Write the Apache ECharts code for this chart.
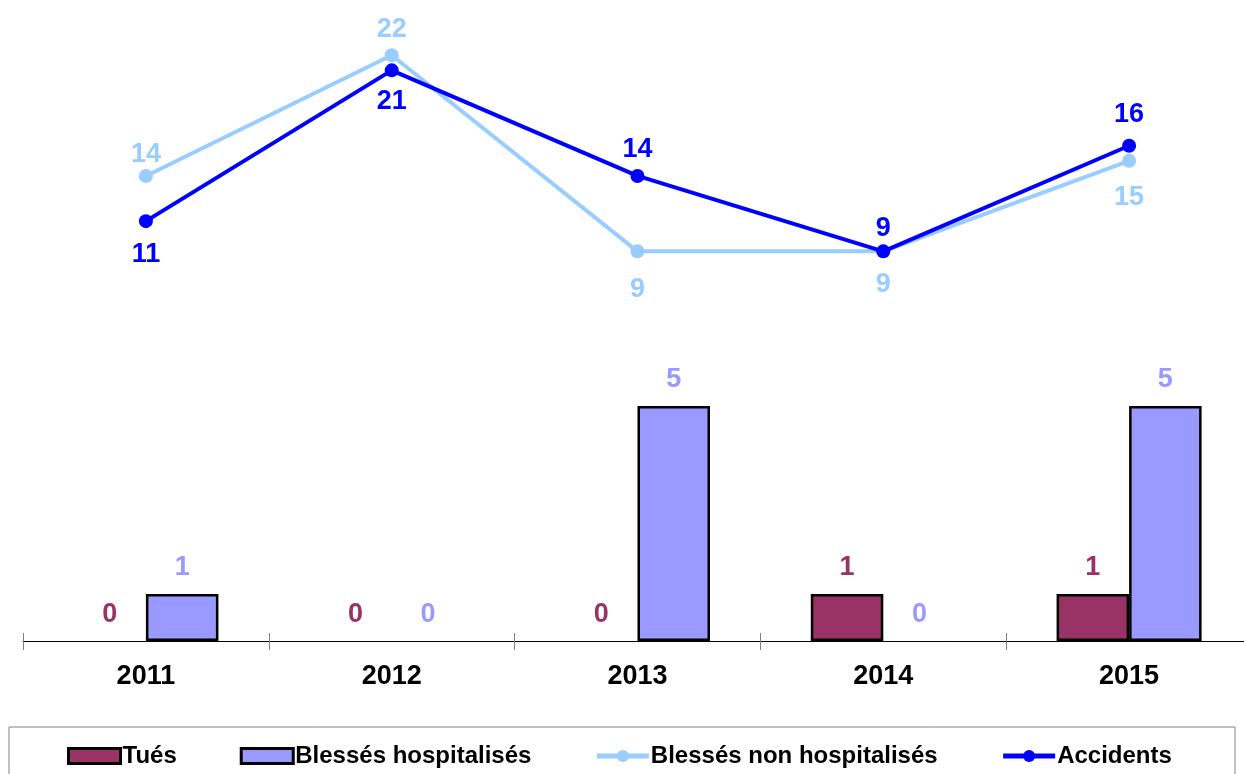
<!DOCTYPE html>
<html><head><meta charset="utf-8">
<script src="https://cdn.jsdelivr.net/npm/echarts@6/dist/echarts.min.js"></script>
<style>html,body{margin:0;padding:0;background:#fff;overflow:hidden}#c{width:1252px;height:774px}</style>
</head><body><div id="c"></div>
<script>
var years = ['2011','2012','2013','2014','2015'];
var tues = [0,0,0,1,1];
var blessesHosp = [1,0,5,0,5];
var blessesNonHosp = [14,22,9,9,15];
var accidents = [11,21,14,9,16];

// label placement (style only)
var accPos = ['bottom','bottom','top','top','top'];
var accDist = [13,11,6,2,11];
var bnhPos = ['top','top','bottom','bottom','bottom'];
var bnhDist = [1,5,18,13,16];

var FONT = '"Liberation Sans", Arial, sans-serif';
function lbl(color){return {show:true,fontFamily:FONT,fontWeight:'bold',fontSize:27,color:color};}
function barData(arr){return arr.map(function(v){return v===0?{value:v,itemStyle:{borderWidth:0}}:v;});}

var chart = echarts.init(document.getElementById('c'));
chart.setOption({
  animation:false,
  backgroundColor:'#fff',
  grid:{left:23,right:0,top:20,bottom:133,containLabel:false},
  xAxis:[{
    type:'category',data:years,position:'bottom',
    axisLine:{onZero:false,lineStyle:{color:'#000',width:1}},
    axisTick:{show:true,length:9,lineStyle:{color:'#808080'}},
    axisLabel:{fontFamily:FONT,fontWeight:'bold',fontSize:27,color:'#000',margin:22}
  },{
    type:'category',data:years,position:'bottom',offset:0,
    axisLine:{show:false,onZero:false},
    axisTick:{show:true,inside:true,length:8,lineStyle:{color:'#808080'}},
    axisLabel:{show:false}
  }],
  yAxis:[
    {type:'value',min:0,max:13.21,show:false,splitLine:{show:false}},
    {type:'value',min:-16.84,max:24.34,show:false,splitLine:{show:false}}
  ],
  legend:{
    left:62,top:739,itemGap:63,itemWidth:52,itemHeight:15,
    textStyle:{fontFamily:FONT,fontWeight:'bold',fontSize:24,color:'#000',padding:[0,0,0,-3]},
    data:[
      {name:'Tués',icon:'rect',itemStyle:{borderWidth:3}},
      {name:'Blessés hospitalisés',icon:'rect',itemStyle:{borderWidth:3}},
      {name:'Blessés non hospitalisés',lineStyle:{width:5}},
      {name:'Accidents',lineStyle:{width:5}}
    ]
  },
  graphic:[{type:'rect',shape:{x:9,y:727,width:1226,height:60},style:{fill:'none',stroke:'#808080',lineWidth:1},z:-1}],
  series:[
    {name:'Tués',type:'bar',xAxisIndex:0,yAxisIndex:0,data:barData(tues),barGap:'0%',barCategoryGap:'41%',
     itemStyle:{color:'#993366',borderColor:'#000',borderWidth:2.5},
     label:Object.assign(lbl('#993366'),{position:'top',distance:13})},
    {name:'Blessés hospitalisés',type:'bar',xAxisIndex:0,yAxisIndex:0,data:barData(blessesHosp),barGap:'0%',barCategoryGap:'41%',
     itemStyle:{color:'#9999FF',borderColor:'#000',borderWidth:2.5},
     label:Object.assign(lbl('#9999FF'),{position:'top',distance:13})},
    {name:'Blessés non hospitalisés',type:'line',xAxisIndex:0,yAxisIndex:1,
     data:blessesNonHosp.map(function(v,i){return {value:v,label:{position:bnhPos[i],distance:bnhDist[i]}};}),
     symbol:'circle',symbolSize:14,lineStyle:{color:'#99CCFF',width:4},itemStyle:{color:'#99CCFF'},
     label:lbl('#99CCFF'),z:3},
    {name:'Accidents',type:'line',xAxisIndex:0,yAxisIndex:1,
     data:accidents.map(function(v,i){return {value:v,label:{position:accPos[i],distance:accDist[i]}};}),
     symbol:'circle',symbolSize:14,lineStyle:{color:'#0000FF',width:4},itemStyle:{color:'#0000FF'},
     label:lbl('#0000FF'),z:4}
  ]
});
</script></body></html>
